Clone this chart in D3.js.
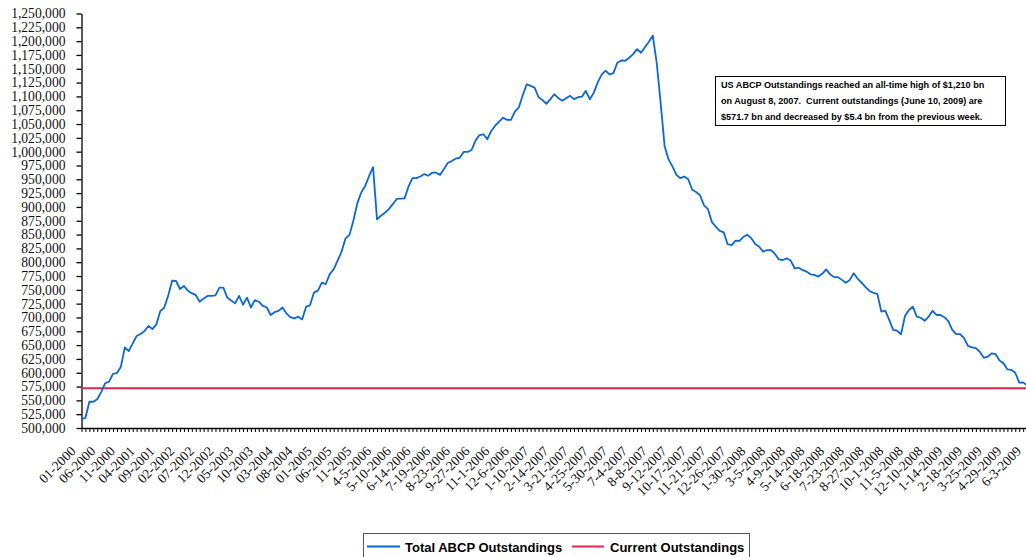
<!DOCTYPE html>
<html>
<head>
<meta charset="utf-8">
<script src="https://cdn.jsdelivr.net/npm/d3@7"></script>
<style>
  body { margin: 0; background: #fff; }
  svg { display: block; }
</style>
</head>
<body>
<svg width="1026" height="557"></svg>
<script>
// US ABCP outstandings: monthly 01-2000 .. 03-2006, weekly from 4-5-2006
var abcp = [
  516000, 518500, 547500, 547500, 552000, 565000, 581000, 584000, 598000, 599500,
  611000, 646000, 639000, 653000, 666500, 670000, 675500, 684500, 679000, 687500,
  711500, 718000, 739500, 766500, 766000, 751500, 757000, 748500, 744000, 740500,
  728500, 734500, 739000, 739000, 740000, 754000, 754000, 736000, 730500, 725500,
  739000, 723000, 736000, 718000, 731500, 728500, 721000, 718500, 704500, 709500,
  712000, 718000, 707500, 700500, 698500, 701500, 696500, 719500, 722000, 745000,
  748500, 763000, 760500, 778500, 787000, 803000, 819000, 843000, 849000, 875000,
  906500, 926000, 938000, 956000, 972000, 877500, 884000, 889500, 896000, 905000,
  914500, 915000, 915500, 937000, 952000, 952000, 955000, 959500, 956500, 962000,
  962000, 958000, 968500, 980000, 983000, 987500, 989000, 999500, 999500, 1003000,
  1020000, 1030000, 1031500, 1022500, 1037500, 1047000, 1054500, 1061500, 1057500, 1057500,
  1072500, 1080000, 1102500, 1122000, 1119000, 1116000, 1098500, 1093500, 1086500, 1095000,
  1104000, 1097000, 1092000, 1096500, 1101000, 1095000, 1098500, 1099500, 1110000, 1095000,
  1106000, 1125000, 1139000, 1146500, 1140000, 1142000, 1161000, 1165000, 1164500, 1170000,
  1176500, 1185500, 1179000, 1189000, 1199000, 1210000, 1160000, 1087500, 1010000, 986000,
  973000, 958000, 952000, 955000, 950000, 931000, 927000, 921000, 903000, 896000,
  872500, 864500, 856500, 854000, 832500, 831000, 839000, 838500, 846000, 849500,
  843500, 833000, 828000, 819000, 822000, 822000, 815000, 805000, 804000, 807000,
  803000, 789000, 790000, 786000, 783000, 778000, 777000, 774000, 779000, 787000,
  778000, 773000, 773000, 768000, 763000, 768000, 780000, 770000, 763000, 755000,
  748000, 744500, 742500, 710500, 712500, 695500, 677500, 676000, 669500, 702500,
  713500, 719500, 701500, 699500, 694000, 701500, 712000, 704500, 704500, 700500,
  693500, 677500, 670000, 670000, 662500, 648500, 646000, 644500, 638000, 627000,
  629000, 635000, 633500, 622000, 617000, 606000, 605000, 600000, 582000, 582500,
  577100, 571700
];

var currentOutstanding = 571700;

var yTicks = d3.range(500000, 1250001, 25000);

var seriesNames = ["Total ABCP Outstandings", "Current Outstandings"];

var noteLines = [
  "US ABCP Outstandings reached an all-time high of $1,210 bn",
  "on August 8, 2007.  Current outstandings (June 10, 2009) are",
  "$571.7 bn and decreased by $5.4 bn from the previous week."
];

// category labels
var categories = [];
for (var yr = 2000; yr <= 2006; yr++) {
  for (var m = 1; m <= 12; m++) {
    if (yr === 2006 && m > 3) break;
    categories.push((m < 10 ? "0" + m : "" + m) + "-" + yr);
  }
}
var wk = new Date(2006, 3, 5);
while (categories.length < abcp.length) {
  categories.push((wk.getMonth() + 1) + "-" + wk.getDate() + "-" + wk.getFullYear());
  wk.setDate(wk.getDate() + 7);
}

var blue = "#0b68d4";
var red = "#e1264f";

var svg = d3.select("svg");

var x = d3.scalePoint()
  .domain(categories)
  .range([81.5, 81.5 + 3.94 * (categories.length - 1)]);

var y = d3.scaleLinear()
  .domain([500000, 1250000])
  .range([428, 13.5]);

// y axis
var yAxis = svg.append("g")
  .attr("transform", "translate(81.5,0)")
  .call(d3.axisLeft(y).tickValues(yTicks).tickFormat(d3.format(","))
    .tickSize(5).tickSizeOuter(0).tickPadding(11));
yAxis.selectAll("text")
  .attr("font-family", "'Liberation Serif', 'Times New Roman', serif")
  .attr("font-size", 13.6)
  .attr("fill", "#111");
yAxis.selectAll("line, path").attr("stroke", "#000").attr("stroke-width", 1.3);

// x axis
var xAxis = svg.append("g")
  .attr("transform", "translate(0,428)")
  .call(d3.axisBottom(x)
    .tickFormat(function (d, i) { return i % 5 === 0 ? d : ""; })
    .tickSize(4).tickSizeOuter(0));
xAxis.selectAll("line").attr("stroke", "#000").attr("stroke-width", 1);
xAxis.select("path").attr("stroke", "#000").attr("stroke-width", 1.5);
xAxis.selectAll("text")
  .attr("x", 0).attr("y", 0).attr("dy", 0)
  .attr("text-anchor", "end")
  .attr("transform", "translate(-5.5,24) rotate(-45)")
  .attr("font-family", "'Liberation Serif', 'Times New Roman', serif")
  .attr("font-size", 13.6)
  .attr("fill", "#111");

// current outstandings line
var line = d3.line()
  .x(function (d) { return x(d[0]); })
  .y(function (d) { return y(d[1]); });

svg.append("path")
  .datum(categories.map(function (c) { return [c, currentOutstanding]; }))
  .attr("d", line)
  .attr("fill", "none")
  .attr("stroke", red)
  .attr("stroke-width", 2);

// total ABCP line
svg.append("path")
  .datum(categories.map(function (c, i) { return [c, abcp[i]]; }))
  .attr("d", line)
  .attr("fill", "none")
  .attr("stroke", blue)
  .attr("stroke-width", 1.8)
  .attr("stroke-linejoin", "round");

// note box
var note = svg.append("g");
note.append("rect")
  .attr("x", 715.5).attr("y", 76.5)
  .attr("width", 290).attr("height", 49)
  .attr("fill", "#fff").attr("stroke", "#000").attr("stroke-width", 1);
note.selectAll("text")
  .data(noteLines)
  .enter()
  .append("text")
  .attr("x", 721)
  .attr("y", function (d, i) { return 88 + i * 16; })
  .style("white-space", "pre")
  .attr("font-family", "'Liberation Sans', Arial, sans-serif")
  .attr("font-weight", "bold")
  .attr("font-size", 9.1)
  .attr("fill", "#000")
  .text(function (d) { return d; });

// legend
var legend = svg.append("g");
legend.append("rect")
  .attr("x", 363.5).attr("y", 533.5)
  .attr("width", 386).attr("height", 40)
  .attr("fill", "#fff").attr("stroke", "#555").attr("stroke-width", 1);
var legendItems = [
  {name: seriesNames[0], color: blue, x1: 367, x2: 400, tx: 405},
  {name: seriesNames[1], color: red, x1: 572, x2: 604, tx: 610}
];
legendItems.forEach(function (d) {
  legend.append("line")
    .attr("x1", d.x1).attr("x2", d.x2)
    .attr("y1", 546.5).attr("y2", 546.5)
    .attr("stroke", d.color).attr("stroke-width", 2);
  legend.append("text")
    .attr("x", d.tx).attr("y", 551.5)
    .attr("font-family", "'Liberation Sans', Arial, sans-serif")
    .attr("font-weight", "bold")
    .attr("font-size", 13)
    .attr("fill", "#000")
    .text(d.name);
});
</script>
</body>
</html>
